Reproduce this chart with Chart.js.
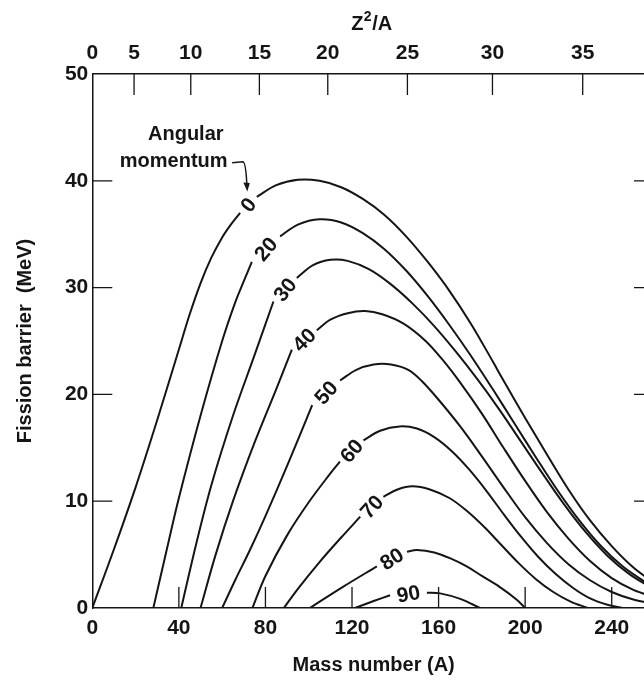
<!DOCTYPE html>
<html>
<head>
<meta charset="utf-8">
<title>Fission barrier vs mass number</title>
<script src="https://cdn.jsdelivr.net/npm/chart.js@4.4.1/dist/chart.umd.min.js"></script>
<style>
  html, body { margin: 0; padding: 0; background: #fff; overflow: hidden; }
  canvas { display: block; }
</style>
</head>
<body>
<canvas id="barrierChart" width="655" height="682"></canvas>
<script>
// Tick values / labels
const massTicks = [0, 40, 80, 120, 160, 200, 240];
const barrierTicks = [0, 10, 20, 30, 40, 50];
// Z^2/A scale on top, placed at the mass numbers it corresponds to
const zTickMass = [0, 19.3, 45.5, 77.2, 108.8, 145.6, 184.9, 226.6];
const zTickLabels = ['0', '5', '10', '15', '20', '25', '30', '35'];

// Angular momentum of each curve
const momentumLabels = ['0', '20', '30', '40', '50', '60', '70', '80', '90'];

// [mass number, barrier MeV]; null marks where the curve label sits
const curve0 = [[0, 0], [10, 5.5], [20, 11.3], [30, 17.6], [40, 24.2], [45, 27.5], [50, 30.4], [55, 32.8], [60, 34.7],
  [64, 35.9], [68.3, 37.0], [72, null],
  [76, 38.5], [85, 39.6], [95, 40.1], [105, 40.0], [115, 39.4], [125, 38.3], [135, 36.8], [145, 34.8], [155, 32.4],
  [165, 29.7], [175, 26.6], [185, 23.1], [190, 21.3], [200, 17.8], [210, 14.4], [220, 11.1], [230, 8.2],
  [240, 5.8], [250, 3.8], [260, 2.3]];
const curve20 = [[28.2, 0], [35, 6], [40, 10.3], [50, 18], [60, 25], [66, 28.6], [70, 30.6], [73.7, 32.4], [80, null],
  [86.8, 34.8], [95, 35.9], [105, 36.4], [115, 36.1], [125, 35.1], [135, 33.6], [145, 31.6], [155, 29.2], [165, 26.5],
  [175, 23.6], [185, 20.5], [195, 17.3], [205, 14.1], [215, 11.0], [225, 8.2], [235, 5.8], [245, 3.9],
  [255, 2.5], [260, 2.0]];
const curve30 = [[41.1, 0], [48, 6], [55, 11.5], [65, 18], [75, 23.7], [83.7, 28.7], [89, null],
  [94.5, 30.9], [102, 32.1], [110, 32.6], [118, 32.5], [128, 31.7], [138, 30.3], [148, 28.5], [158, 26.4], [168, 24.0],
  [178, 21.4], [188, 18.6], [198, 15.6], [208, 12.6], [218, 9.7], [228, 7.1], [238, 4.9], [248, 3.2], [260, 1.7]];
const curve40 = [[50, 0], [57, 5], [65, 10], [75, 15.5], [85, 20.5], [92.2, 24.2], [98, null],
  [103.7, 26.0], [110, 27.0], [118, 27.6], [126, 27.8], [134, 27.5], [144, 26.6], [154, 25.0], [162, 23.2],
  [170, 21.1], [180, 18.2], [190, 15.0], [200, 11.9], [210, 9.0], [220, 6.5], [230, 4.4], [240, 2.8],
  [250, 1.7], [260, 1.0]];
const curve50 = [[60, 0], [66, 2.6], [73, 5.5], [80, 8.6], [90, 13.3], [101.6, 19.0], [108, null],
  [114.5, 21.3], [122, 22.3], [130, 22.8], [138, 22.8], [146, 22.3], [152, 21.3], [160, 19.5], [170, 17.0],
  [180, 14.2], [190, 11.3], [200, 8.5], [210, 6.1], [220, 4.1], [230, 2.6], [240, 1.5], [250, 0.8], [260, 0.4]];
const curve60 = [[74, 0], [80, 3], [90, 6.8], [100, 9.9], [110, 12.6], [114.4, 13.7], [119, null],
  [125.3, 15.7], [133, 16.6], [142, 17.0], [150, 16.8], [158, 16.0], [166, 14.7], [174, 13.0], [182, 11.0],
  [190, 8.8], [198, 6.7], [206, 4.8], [214, 3.2], [222, 1.9], [230, 0.9], [238, 0.3], [245, 0]];
const curve70 = [[88.5, 0], [95, 1.8], [105, 4.3], [115, 6.6], [123.8, 8.55], [129, null],
  [134.5, 10.4], [141, 11.1], [148, 11.4], [156, 11.1], [165, 10.3], [173, 9.1], [181, 7.6], [189, 5.9],
  [197, 4.2], [205, 2.7], [213, 1.5], [221, 0.6], [229, 0]];
const curve80 = [[100.5, 0], [116, 2.0], [131.5, 3.9], [138, null],
  [145.4, 5.27], [150, 5.43], [158, 5.2], [166, 4.6], [173, 3.9], [180, 3.0], [188, 2.0], [196, 0.8], [200, 0]];
const curve90 = [[121.4, 0], [130, 0.65], [137.6, 1.2], [145, null],
  [154.6, 1.43], [160.7, 1.37], [170, 0.85], [179.2, 0]];

const curves = [curve0, curve20, curve30, curve40, curve50, curve60, curve70, curve80, curve90];

const ink = '#151515';
const fontFamily = '"Liberation Sans", Arial, Helvetica, sans-serif';

// Inner ticks, curve labels, the Z^2/A title and the "Angular momentum" note
const figureMarks = {
    id: 'figureMarks',
    afterDatasetsDraw(chart) {
        const { ctx, chartArea: a, scales } = chart;
        const x = scales.x, y = scales.y, x2 = scales.x2;
        ctx.save();
        ctx.strokeStyle = ink;
        ctx.lineWidth = 1.3;
        ctx.beginPath();
        barrierTicks.slice(1, -1).forEach(v => {
            const py = y.getPixelForValue(v);
            ctx.moveTo(a.left, py); ctx.lineTo(a.left + 20, py);
            ctx.moveTo(a.right, py); ctx.lineTo(a.right - 21, py);
        });
        massTicks.slice(1).forEach(v => {
            const px = x.getPixelForValue(v);
            ctx.moveTo(px, a.bottom); ctx.lineTo(px, a.bottom - 21);
        });
        zTickMass.slice(1).forEach(v => {
            const px = x2.getPixelForValue(v);
            ctx.moveTo(px, a.top); ctx.lineTo(px, a.top + 21);
        });
        ctx.stroke();

        // labels sit in the gap of each curve, turned along it
        ctx.fillStyle = ink;
        ctx.font = 'bold 21px ' + fontFamily;
        ctx.textAlign = 'center';
        ctx.textBaseline = 'middle';
        curves.forEach((c, i) => {
            const g = c.findIndex(p => p[1] === null);
            const p0 = c[g - 1], p1 = c[g + 1];
            const x0 = x.getPixelForValue(p0[0]), y0 = y.getPixelForValue(p0[1]);
            const x1 = x.getPixelForValue(p1[0]), y1 = y.getPixelForValue(p1[1]);
            ctx.save();
            ctx.translate((x0 + x1) / 2, (y0 + y1) / 2);
            ctx.rotate(Math.atan2(y1 - y0, x1 - x0) - 0.12);
            ctx.fillText(momentumLabels[i], 0, 1);
            ctx.restore();
        });

        // top title with a real superscript
        const tx = (a.left + a.right) / 2 - 2, ty = 30;
        ctx.textAlign = 'left';
        ctx.textBaseline = 'alphabetic';
        ctx.font = 'bold 20px ' + fontFamily;
        const wZ = ctx.measureText('Z').width;
        const wA = ctx.measureText('/A').width;
        ctx.font = 'bold 14px ' + fontFamily;
        const w2 = ctx.measureText('2').width;
        const start = tx - (wZ + w2 + 1 + wA) / 2;
        ctx.font = 'bold 20px ' + fontFamily;
        ctx.fillText('Z', start, ty);
        ctx.fillText('/A', start + wZ + w2 + 1, ty);
        ctx.font = 'bold 14px ' + fontFamily;
        ctx.fillText('2', start + wZ + 0.5, ty - 9);

        // note with bent arrow towards the l = 0 curve
        ctx.textAlign = 'right';
        ctx.textBaseline = 'middle';
        ctx.font = 'bold 20px ' + fontFamily;
        const noteRight = x.getPixelForValue(62.5);
        ctx.fillText('Angular', noteRight - 4, y.getPixelForValue(44.3));
        ctx.fillText('momentum', noteRight, y.getPixelForValue(41.8));
        const ax0 = x.getPixelForValue(64.6), ay0 = y.getPixelForValue(41.7);
        const ax1 = x.getPixelForValue(69.6);
        const tipX = x.getPixelForValue(71.4), tipY = y.getPixelForValue(39.0);
        ctx.lineWidth = 1.5;
        ctx.beginPath();
        ctx.moveTo(ax0, ay0);
        ctx.lineTo(ax1, ay0 - 1);
        ctx.quadraticCurveTo(tipX - 1, ay0, tipX, tipY - 7);
        ctx.stroke();
        ctx.beginPath();
        ctx.moveTo(tipX - 3.5, tipY - 9);
        ctx.lineTo(tipX + 3, tipY - 8.5);
        ctx.lineTo(tipX + 0.5, tipY);
        ctx.closePath();
        ctx.fill();
        ctx.restore();
    }
};

const tickFont = { family: fontFamily, size: 21, weight: 'bold' };
const titleFont = { family: fontFamily, size: 20, weight: 'bold' };
const axisBorder = { display: true, color: ink, width: 1.5 };

new Chart(document.getElementById('barrierChart'), {
    type: 'line',
    data: {
        datasets: curves.map((c, i) => ({
            label: momentumLabels[i],
            data: c.map(p => ({ x: p[0], y: p[1] })),
            borderColor: ink,
            borderWidth: 2,
            pointRadius: 0,
            fill: false,
            spanGaps: false,
            tension: 0.35
        }))
    },
    options: {
        responsive: false,
        animation: false,
        events: [],
        layout: { padding: 0 },
        plugins: { legend: { display: false }, tooltip: { enabled: false } },
        scales: {
            x: {
                type: 'linear',
                position: 'bottom',
                min: 0,
                max: 260,
                afterBuildTicks: s => { s.ticks = massTicks.map(v => ({ value: v })); },
                afterFit: s => { s.height = 74; },
                ticks: { font: tickFont, color: ink, padding: 8, maxRotation: 0 },
                grid: { display: false, drawTicks: false },
                border: axisBorder,
                title: { display: true, text: 'Mass number (A)', font: titleFont, color: ink, padding: { top: 0, bottom: 5 } }
            },
            x2: {
                type: 'linear',
                position: 'top',
                min: 0,
                max: 260,
                afterBuildTicks: s => { s.ticks = zTickMass.map(v => ({ value: v })); },
                afterFit: s => { s.height = 74; },
                ticks: {
                    font: tickFont, color: ink, padding: 8, maxRotation: 0,
                    callback: (v, i) => zTickLabels[i]
                },
                grid: { display: false, drawTicks: false },
                border: axisBorder
            },
            y: {
                type: 'linear',
                position: 'left',
                min: 0,
                max: 50,
                afterBuildTicks: s => { s.ticks = barrierTicks.map(v => ({ value: v })); },
                afterFit: s => { s.width = 92.3; },
                ticks: { font: tickFont, color: ink, padding: 4 },
                grid: { display: false, drawTicks: false },
                border: axisBorder,
                title: { display: true, text: 'Fission barrier  (MeV)', font: titleFont, color: ink, padding: { top: 13, bottom: 0 } }
            }
        }
    },
    plugins: [figureMarks]
});
</script>
</body>
</html>
